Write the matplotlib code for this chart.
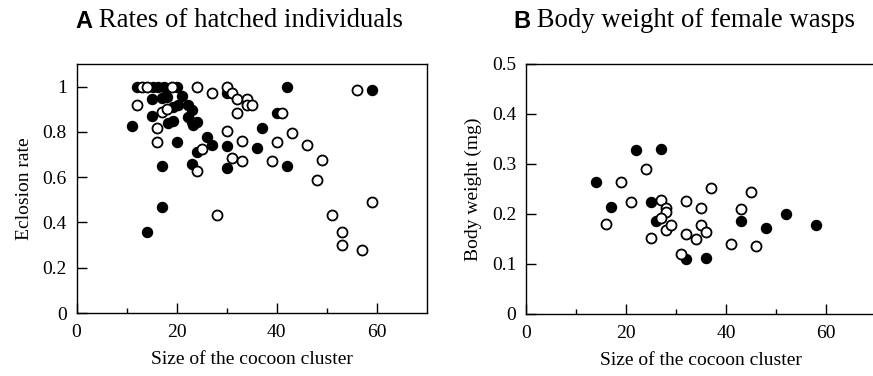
import matplotlib
matplotlib.use("Agg")
import matplotlib.pyplot as plt
from matplotlib.ticker import FixedLocator

# Panel A: eclosion rate vs cluster size
a_filled_x = [12, 15.3, 16.3, 17.5, 20, 42, 59, 15, 17, 18, 21, 15, 19.3, 20.3, 22.3, 23,
              18.3, 19.3, 22.3, 23, 24, 23.3, 11, 20, 30, 40, 37, 26, 27, 30, 36, 24,
              23, 30, 42, 17, 17, 14]
a_filled_y = [1.0, 1.0, 1.0, 1.0, 1.0, 1.0, 0.985, 0.945, 0.952, 0.955, 0.96, 0.87, 0.91, 0.917, 0.917, 0.895,
              0.84, 0.85, 0.865, 0.843, 0.843, 0.83, 0.825, 0.754, 0.97, 0.883, 0.816, 0.776, 0.744, 0.736, 0.727, 0.71,
              0.658, 0.639, 0.648, 0.65, 0.47, 0.357]
a_open_x = [13, 14, 19, 24, 30, 56, 12, 17, 18, 16, 16, 27, 31, 32, 34, 34, 35, 32, 41,
            30, 43, 33, 40, 46, 25, 31, 33, 39, 49, 24, 48, 59, 28, 51, 53, 53, 57]
a_open_y = [1.0, 1.0, 1.0, 1.0, 1.0, 0.985, 0.92, 0.89, 0.9, 0.818, 0.754, 0.972, 0.97, 0.944, 0.947, 0.92, 0.92, 0.883, 0.883,
            0.806, 0.796, 0.761, 0.754, 0.742, 0.724, 0.683, 0.671, 0.671, 0.677, 0.628, 0.587, 0.492, 0.431, 0.432, 0.359, 0.302, 0.28]

# Panel B: body weight of female wasps
b_filled_x = [14, 22, 27, 17, 25, 26, 32, 36, 43, 48, 52, 58]
b_filled_y = [0.265, 0.328, 0.33, 0.215, 0.225, 0.187, 0.11, 0.113, 0.187, 0.173, 0.2, 0.178]
b_open_x = [19, 24, 21, 16, 27, 28, 28, 27, 28, 29, 25, 32, 32, 31, 37, 45, 35, 43, 35, 36, 34, 41, 46]
b_open_y = [0.265, 0.291, 0.225, 0.181, 0.229, 0.212, 0.205, 0.193, 0.168, 0.178, 0.153, 0.227, 0.161, 0.121,
            0.253, 0.245, 0.213, 0.21, 0.178, 0.165, 0.151, 0.14, 0.137]

a_yticks = [0, 0.2, 0.4, 0.6, 0.8, 1.0]
a_ylabels = ["0", "0.2", "0.4", "0.6", "0.8", "1"]
b_yticks = [0, 0.1, 0.2, 0.3, 0.4, 0.5]
b_ylabels = ["0", "0.1", "0.2", "0.3", "0.4", "0.5"]
xticks = [0, 20, 40, 60]

serif = "Liberation Serif"
sans = "Liberation Sans"
plt.rcParams["font.family"] = serif

fig = plt.figure(figsize=(8.73, 3.76), dpi=100)
axA = fig.add_axes([76.5 / 873, 63 / 376, 350.5 / 873, 249 / 376])
axB = fig.add_axes([526 / 873, 62 / 376, 350 / 873, 250 / 376])

ms = 52
for ax, fx, fy, ox, oy in [(axA, a_filled_x, a_filled_y, a_open_x, a_open_y),
                           (axB, b_filled_x, b_filled_y, b_open_x, b_open_y)]:
    ax.scatter(fx, fy, s=ms, c="black", edgecolors="black", linewidths=1.0, zorder=2, clip_on=False)
    ax.scatter(ox, oy, s=ms, c="white", edgecolors="black", linewidths=1.3, zorder=3, clip_on=False)
    ax.set_xlim(0, 70)
    ax.set_xticks(xticks)
    ax.set_xticklabels([str(t) for t in xticks])
    ax.xaxis.set_minor_locator(FixedLocator([10, 30, 50]))
    ax.tick_params(axis="both", which="major", direction="in", length=7, width=1.0, labelsize=14)
    ax.tick_params(axis="x", which="major", pad=8)
    ax.tick_params(axis="y", which="major", pad=7)
    ax.tick_params(axis="x", which="minor", direction="in", length=3.5, width=1.0)
    for sp in ax.spines.values():
        sp.set_linewidth(1.0)
    ax.set_xlabel("Size of the cocoon cluster", fontsize=14, labelpad=7)

axA.set_ylim(0, 1.1)
axA.set_yticks(a_yticks)
axA.set_yticklabels(a_ylabels)
axA.set_ylabel("Eclosion rate", fontsize=14, labelpad=7)

axB.set_ylim(0, 0.5)
axB.set_yticks(b_yticks)
axB.set_yticklabels(b_ylabels)
axB.set_ylabel("Body weight (mg)", fontsize=14, labelpad=7)

# panel titles: bold sans letter followed by serif text
for x0, letter, rest in [(75, "A", " Rates of hatched individuals"),
                         (513, "B", " Body weight of female wasps")]:
    t = fig.text(x0 / 873, 1 - 28 / 376, letter, fontsize=17, fontweight="bold",
                 family=sans, va="baseline", ha="left")
    plt.annotate(rest, xy=(1, 0), xycoords=t, fontsize=19.3, family=serif,
                 va="bottom", ha="left", annotation_clip=False)

fig.savefig("out.png", dpi=100)
